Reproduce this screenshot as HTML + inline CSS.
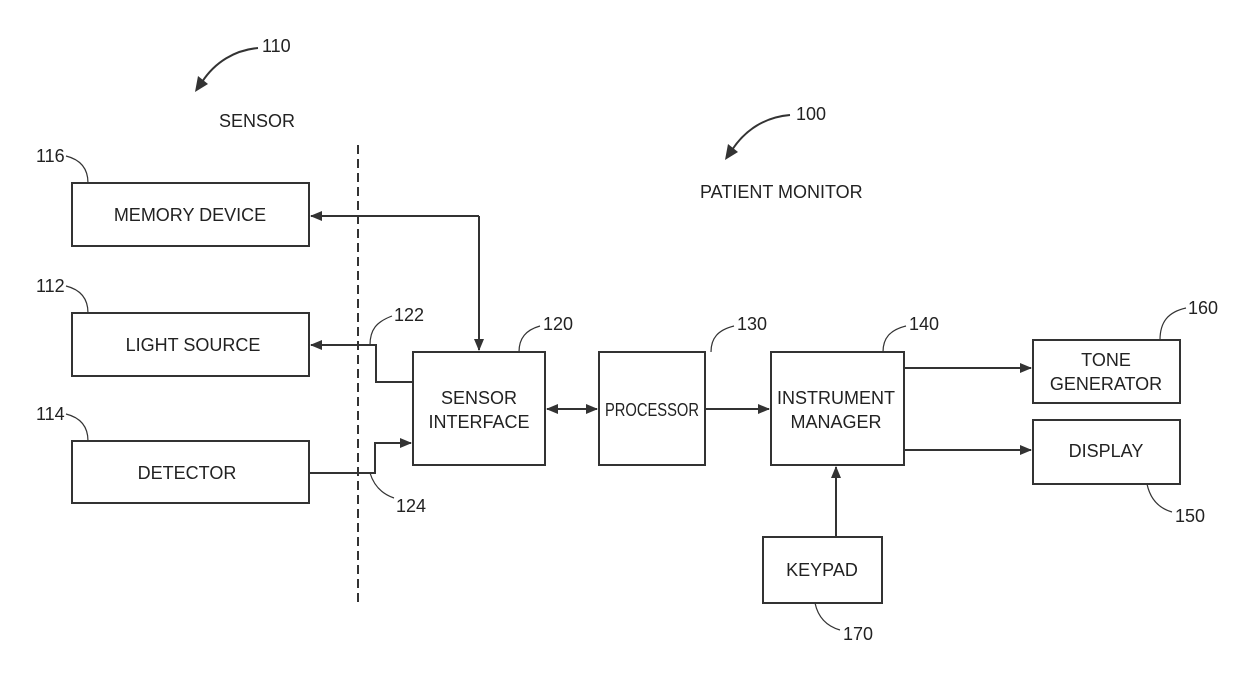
<!DOCTYPE html>
<html><head><meta charset="utf-8"><style>
html,body{margin:0;padding:0;background:#fff}
svg text{font-family:"Liberation Sans",Arial,sans-serif;font-size:18px;fill:#222}
</style></head><body>
<svg width="1240" height="679" viewBox="0 0 1240 679" xmlns="http://www.w3.org/2000/svg">
<defs><marker id="a" markerWidth="12" markerHeight="10" refX="11" refY="5" orient="auto" markerUnits="userSpaceOnUse"><path d="M0,0 L12,5 L0,10 Z" fill="#333"/></marker></defs>
<g fill="none" stroke="#333" stroke-width="2">
<rect x="72" y="183" width="237" height="63"/>
<rect x="72" y="313" width="237" height="63"/>
<rect x="72" y="441" width="237" height="62"/>
<rect x="413" y="352" width="132" height="113"/>
<rect x="599" y="352" width="106" height="113"/>
<rect x="771" y="352" width="133" height="113"/>
<rect x="1033" y="340" width="147" height="63"/>
<rect x="1033" y="420" width="147" height="64"/>
<rect x="763" y="537" width="119" height="66"/>
<line x1="358" y1="145" x2="358" y2="605" stroke-dasharray="9,5"/>
<path d="M479 216 H311" marker-end="url(#a)"/>
<path d="M479 216 V350" marker-end="url(#a)"/>
<path d="M413 382 H376 V345 H311" marker-end="url(#a)"/>
<path d="M309 473 H375 V443 H411" marker-end="url(#a)"/>
<path d="M560 409 H597" marker-end="url(#a)"/>
<path d="M584 409 H547" marker-end="url(#a)"/>
<path d="M705 409 H769" marker-end="url(#a)"/>
<path d="M904 368 H1031" marker-end="url(#a)"/>
<path d="M904 450 H1031" marker-end="url(#a)"/>
<path d="M836 537 V467" marker-end="url(#a)"/>
<g stroke-width="1.2">
<path d="M88 183 C88 170 82 160 66 156"/>
<path d="M88 313 C88 300 82 290 66 286"/>
<path d="M88 441 C88 428 82 418 66 414"/>
<path d="M370 345 C370 330 376 322 392 316"/>
<path d="M370 473 C374 486 382 494 394 498"/>
<path d="M519 352 C519 338 526 330 540 326"/>
<path d="M711 352 C711 338 718 330 734 326"/>
<path d="M883 352 C883 338 890 330 906 326"/>
<path d="M1160 340 C1160 322 1168 312 1186 308"/>
<path d="M1147 484 C1150 498 1158 508 1172 512"/>
<path d="M815 603 C818 617 826 626 840 630"/>
</g>
<path d="M258 48 C235 50 215 62 202 82" stroke-width="2"/>
<path d="M790 115 C765 117 745 130 732 150" stroke-width="2"/>
</g>
<path d="M195 92 L198 76 L208 84 Z" fill="#333"/>
<path d="M725 160 L728 144 L738 152 Z" fill="#333"/>
<text x="262" y="52">110</text>
<text x="796" y="120">100</text>
<text x="219" y="127">SENSOR</text>
<text x="700" y="198">PATIENT MONITOR</text>
<text x="36" y="162">116</text>
<text x="36" y="292">112</text>
<text x="36" y="420">114</text>
<text x="394" y="321">122</text>
<text x="396" y="512">124</text>
<text x="543" y="330">120</text>
<text x="737" y="330">130</text>
<text x="909" y="330">140</text>
<text x="1188" y="314">160</text>
<text x="1175" y="522">150</text>
<text x="843" y="640">170</text>
<g text-anchor="middle">
<text x="190" y="221">MEMORY DEVICE</text>
<text x="193" y="351">LIGHT SOURCE</text>
<text x="187" y="479">DETECTOR</text>
<text x="479" y="404">SENSOR</text>
<text x="479" y="428">INTERFACE</text>
<text x="652" y="416" textLength="94" lengthAdjust="spacingAndGlyphs">PROCESSOR</text>
<text x="836" y="404">INSTRUMENT</text>
<text x="836" y="428">MANAGER</text>
<text x="1106" y="366">TONE</text>
<text x="1106" y="390">GENERATOR</text>
<text x="1106" y="457">DISPLAY</text>
<text x="822" y="576">KEYPAD</text>
</g>
</svg>
</body></html>
